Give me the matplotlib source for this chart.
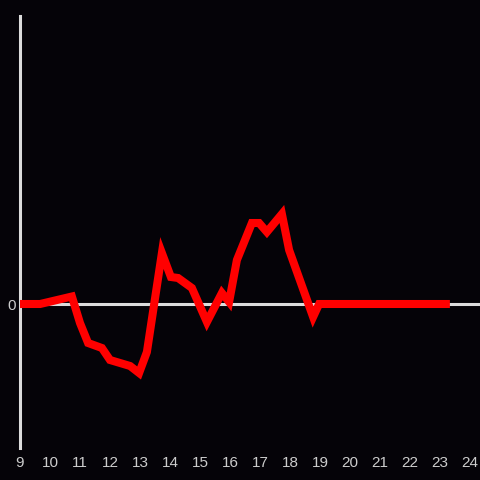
import matplotlib
matplotlib.use("Agg")
import matplotlib.pyplot as plt

hours = [9.0, 9.67, 10.73, 11.0, 11.27, 11.73, 12.0, 12.67, 12.97, 13.23, 13.73,
         14.03, 14.27, 14.73, 15.23, 15.73, 15.97, 16.23, 16.73, 16.97, 17.23,
         17.73, 17.97, 18.77, 18.97, 23.33]
values = [0.0, 0.0, 0.75, -1.9, -3.9, -4.4, -5.6, -6.2, -6.9, -4.8, 5.1,
          2.7, 2.6, 1.6, -1.8, 1.1, 0.2, 4.4, 8.1, 8.1, 7.2,
          9.0, 5.4, -1.3, 0.0, 0.0]
xticks = list(range(9, 25))

bg = "#050308"
fig = plt.figure(figsize=(4.8, 4.8), dpi=100, facecolor=bg)
ax = fig.add_axes([20/480, 32/480, 460/480, 432/480])
ax.set_facecolor(bg)

ax.axhline(0, color="#dcdcdc", lw=2.2, zorder=1)
ax.plot(hours, values, color="#ff0000", lw=5.8, solid_joinstyle="miter",
        solid_capstyle="butt", zorder=3)

ax.set_xlim(9, 9 + 460/30)
ax.set_ylim(-14.4, 28.8)
ax.set_xticks(xticks)
ax.set_xticklabels([str(t) for t in xticks])
ax.set_yticks([0])
ax.set_yticklabels(["0"])
ax.tick_params(length=0, colors="#cccccc", labelsize=11, pad=6)
ax.tick_params(axis="y", pad=3)
for lab in ax.get_xticklabels() + ax.get_yticklabels():
    lab.set_fontfamily(["Liberation Sans", "DejaVu Sans"])

for s in ["top", "right", "bottom"]:
    ax.spines[s].set_visible(False)
ax.spines["left"].set_color("#dcdcdc")
ax.spines["left"].set_linewidth(2.2)

fig.savefig("out.png", dpi=100, facecolor=bg)
